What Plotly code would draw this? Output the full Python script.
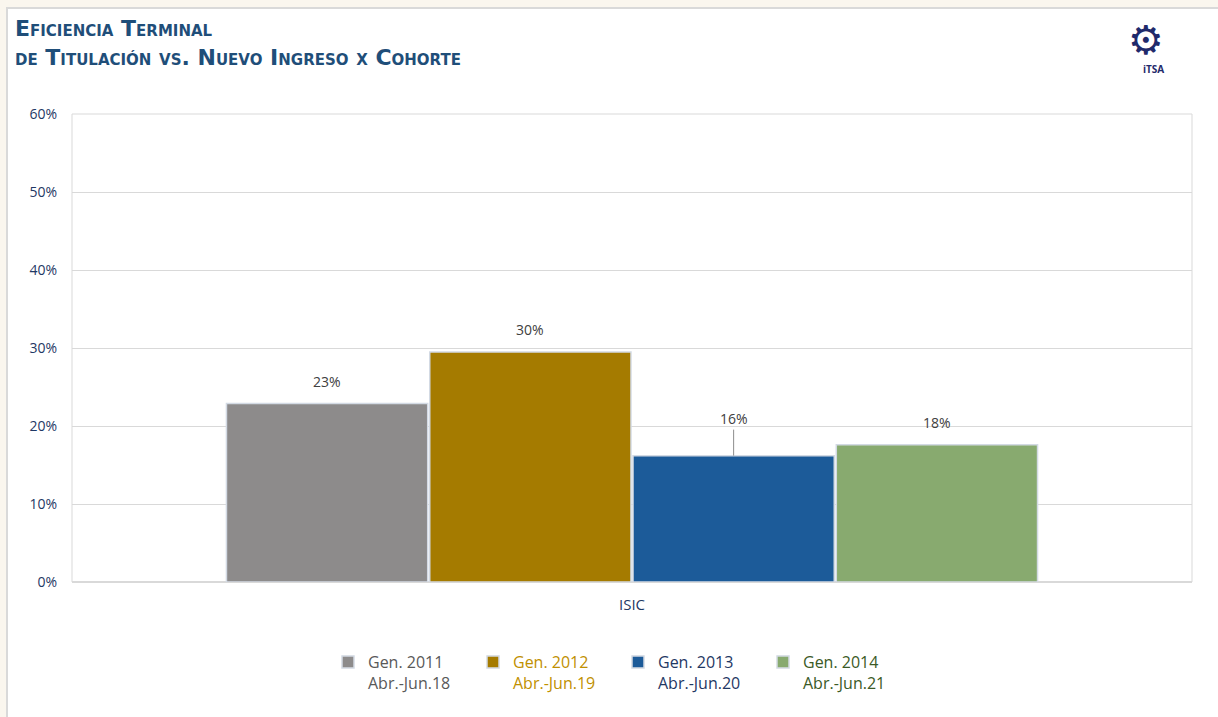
import plotly.graph_objects as go

category = ["ISIC"]
series_names = ["Gen. 2011", "Gen. 2012", "Gen. 2013", "Gen. 2014"]
periods = ["Abr.-Jun.18", "Abr.-Jun.19", "Abr.-Jun.20", "Abr.-Jun.21"]
values = [0.229, 0.295, 0.162, 0.176]
bar_colors = ["#8d8b8b", "#a57b00", "#1c5b99", "#88aa6f"]
text_colors = ["#595959", "#bf9000", "#1f3864", "#3b5a26"]
y_ticks = [0, 0.1, 0.2, 0.3, 0.4, 0.5, 0.6]

W, H = 1218, 717
ML, MR, MT, MB = 72, 26, 114, 135
pw, ph = W - ML - MR, H - MT - MB
bargap = 0.274
bw = (1 - bargap) / len(values)

fig = go.Figure()
for i, (name, per, v, bc, tc) in enumerate(zip(series_names, periods, values, bar_colors, text_colors)):
    fig.add_trace(go.Bar(
        x=category, y=[v],
        name=f"<span style='color:{tc}'>{name}<br>{per}</span>",
        marker=dict(color=bc, line=dict(color="#d3dae4", width=1.5)),
        hoverinfo="skip",
    ))
    xc = -0.5 * (1 - bargap) + bw * (i + 0.5)
    lab_font = dict(family="Open Sans", size=14, color="#404040")
    if i == 2:
        fig.add_annotation(
            x=xc, y=v, xref="x", yref="y", text=f"{v:.0%}",
            showarrow=True, arrowhead=0, arrowwidth=1, arrowcolor="#8c8c8c",
            ax=0, ay=-37, standoff=0, font=lab_font,
        )
    else:
        fig.add_annotation(
            x=xc, y=v, xref="x", yref="y", text=f"{v:.0%}",
            showarrow=False, yanchor="middle", yshift=22, font=lab_font,
        )

# white panel with grey border
x0 = (7 - ML) / pw
x1 = (W + 5 - ML) / pw
y1 = (H - MB - 8) / ph
y0 = (H - MB - (H + 5)) / ph
fig.add_shape(type="rect", xref="paper", yref="paper", x0=x0, x1=x1, y0=y0, y1=y1,
              fillcolor="white", line=dict(color="#d9d9d9", width=2), layer="below")
# plot area border
fig.add_shape(type="rect", xref="paper", yref="paper", x0=0, x1=1, y0=0, y1=1,
              fillcolor="rgba(0,0,0,0)", line=dict(color="#d9d9d9", width=1), layer="below")

# logo approximation
fig.add_annotation(xref="paper", yref="paper", x=(1166 - ML) / pw, y=(H - MB - 40) / ph,
                   yanchor="middle", text="⚙", showarrow=False,
                   font=dict(size=40, color="#1f2a6b", family="DejaVu Sans"))
fig.add_annotation(xref="paper", yref="paper", x=(1166 - ML) / pw, y=(H - MB - 69) / ph,
                   yanchor="middle", text="<b>iTSA</b>", showarrow=False,
                   font=dict(size=10, color="#1f2a6b", family="Open Sans"))

fig.update_layout(
    width=W, height=H,
    margin=dict(l=ML, r=MR, t=MT, b=MB),
    paper_bgcolor="#faf6ee",
    plot_bgcolor="white",
    barmode="group",
    bargap=bargap,
    bargroupgap=0.01,
    title=dict(
        text="<b>Eficiencia Terminal<br>de Titulación vs. Nuevo Ingreso x Cohorte</b>",
        x=15 / W, xanchor="left", xref="container",
        y=1 - 36 / H, yanchor="top", yref="container", pad=dict(t=0, b=0, l=0, r=0),
        font=dict(family="DejaVu Sans", size=22, color="#1f4e79", variant="small-caps"),
    ),
    showlegend=True,
    legend=dict(
        orientation="h", x=0.5 + 9 / W, xanchor="center", xref="container",
        y=(H - 645) / H, yanchor="top", yref="container",
        font=dict(family="Open Sans", size=16, color="#595959"),
        entrywidth=100, entrywidthmode="pixels",
        valign="top", itemwidth=30,
        bgcolor="rgba(0,0,0,0)",
        traceorder="normal",
    ),
    xaxis=dict(
        showgrid=False, showline=False, zeroline=False,
        tickfont=dict(family="Open Sans", size=15, color="#1f3864"),
        ticks="", ticklabelstandoff=12,
    ),
    yaxis=dict(
        range=[0, 0.6], tickvals=y_ticks, tickformat=".0%",
        showgrid=True, gridcolor="#d9d9d9", gridwidth=1,
        zeroline=True, zerolinecolor="#d9d9d9",
        showline=False, ticks="", ticklabelstandoff=14,
        tickfont=dict(family="Open Sans", size=14, color="#1f3864"),
    ),
)

fig.write_html("out.html")
